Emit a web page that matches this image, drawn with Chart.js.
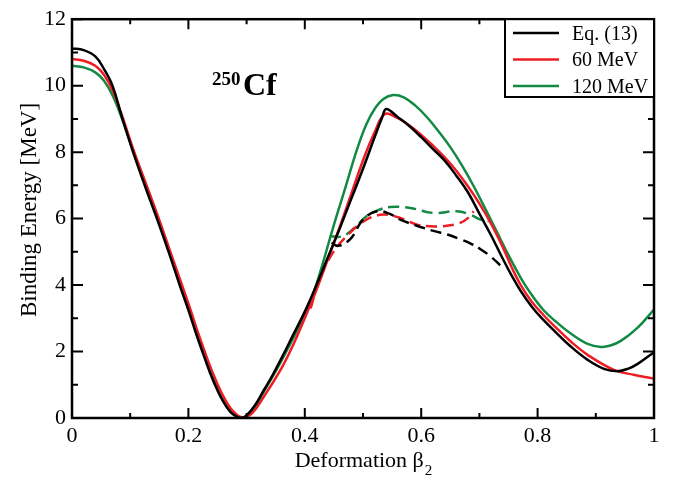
<!DOCTYPE html>
<html>
<head>
<meta charset="utf-8">
<script src="https://cdn.jsdelivr.net/npm/chart.js@4.4.1/dist/chart.umd.min.js"></script>
<style>
  html, body { margin: 0; padding: 0; background: #fff; }
  #wrap { width: 681px; height: 480px; }
</style>
</head>
<body>
<div id="wrap"><canvas id="myChart" width="681" height="480"></canvas></div>
<script>
// Datos (beta2, energia en MeV)
var eqBeta = [0, 0.02, 0.04, 0.055, 0.07, 0.085, 0.105, 0.126, 0.147, 0.166, 0.185, 0.2, 0.213, 0.228, 0.242, 0.258, 0.272, 0.283, 0.291, 0.3, 0.315, 0.33, 0.345, 0.36, 0.38, 0.4, 0.42, 0.44, 0.46, 0.48, 0.5, 0.52, 0.533, 0.54, 0.56, 0.58, 0.6, 0.62, 0.64, 0.66, 0.68, 0.7, 0.72, 0.74, 0.755, 0.771, 0.79, 0.81, 0.83, 0.857, 0.886, 0.914, 0.937, 0.955, 0.972, 1.0];
var eqEnergy = [11.12, 11.07, 10.88, 10.5, 9.98, 9.1, 8.0, 6.95, 5.95, 5.0, 4.0, 3.25, 2.55, 1.8, 1.15, 0.55, 0.18, 0.04, 0.0, 0.08, 0.4, 0.85, 1.3, 1.8, 2.5, 3.2, 4.0, 4.85, 5.7, 6.6, 7.5, 8.45, 9.05, 9.3, 9.05, 8.78, 8.45, 8.1, 7.75, 7.3, 6.8, 6.15, 5.5, 4.8, 4.3, 3.82, 3.35, 2.95, 2.6, 2.15, 1.75, 1.48, 1.41, 1.48, 1.63, 1.98];

var mev60Beta = [0, 0.02, 0.04, 0.055, 0.07, 0.085, 0.105, 0.126, 0.147, 0.166, 0.185, 0.2, 0.213, 0.228, 0.242, 0.258, 0.272, 0.283, 0.291, 0.296, 0.31, 0.33, 0.36, 0.38, 0.405, 0.42, 0.44, 0.46, 0.48, 0.5, 0.52, 0.538, 0.56, 0.58, 0.6, 0.62, 0.64, 0.66, 0.68, 0.7, 0.72, 0.74, 0.755, 0.771, 0.79, 0.81, 0.828, 0.857, 0.886, 0.931, 0.965, 1.0];
var mev60Energy = [10.8, 10.75, 10.6, 10.33, 9.85, 9.15, 8.1, 7.1, 6.1, 5.15, 4.2, 3.45, 2.75, 2.0, 1.35, 0.72, 0.3, 0.1, 0.02, 0.0, 0.15, 0.65, 1.5, 2.2, 3.21, 3.85, 4.8, 5.75, 6.75, 7.75, 8.6, 9.15, 9.02, 8.8, 8.52, 8.2, 7.85, 7.45, 6.98, 6.45, 5.85, 5.15, 4.55, 4.0, 3.5, 3.1, 2.78, 2.3, 1.9, 1.45, 1.3, 1.19];

var mev120Beta = [0, 0.02, 0.04, 0.055, 0.07, 0.085, 0.105, 0.126, 0.147, 0.166, 0.185, 0.2, 0.213, 0.228, 0.242, 0.258, 0.272, 0.283, 0.291, 0.297, 0.31, 0.33, 0.357, 0.38, 0.403, 0.414, 0.43, 0.449, 0.47, 0.49, 0.506, 0.52, 0.535, 0.552, 0.57, 0.59, 0.61, 0.63, 0.65, 0.67, 0.69, 0.71, 0.73, 0.75, 0.771, 0.79, 0.81, 0.83, 0.857, 0.886, 0.909, 0.925, 0.943, 0.972, 1.0];
var mev120Energy = [10.6, 10.55, 10.4, 10.15, 9.7, 9.05, 8.05, 7.05, 6.05, 5.1, 4.1, 3.35, 2.65, 1.9, 1.25, 0.65, 0.25, 0.08, 0.01, 0.0, 0.2, 0.8, 1.63, 2.4, 3.21, 3.7, 4.6, 5.75, 6.95, 8.1, 8.85, 9.3, 9.6, 9.72, 9.65, 9.4, 9.05, 8.62, 8.15, 7.6, 6.98, 6.3, 5.6, 4.9, 4.22, 3.7, 3.25, 2.92, 2.54, 2.23, 2.14, 2.18, 2.32, 2.72, 3.26];

// Ramas discontinuas
var eqDashBeta = [0.446, 0.457, 0.478, 0.5, 0.524, 0.545, 0.564, 0.59, 0.621, 0.645, 0.667, 0.685, 0.702, 0.72, 0.736];
var eqDashEnergy = [5.28, 5.18, 5.38, 5.97, 6.22, 6.15, 5.97, 5.8, 5.63, 5.52, 5.38, 5.25, 5.08, 4.85, 4.59];

var mev60DashBeta = [0.41, 0.426, 0.449, 0.478, 0.506, 0.535, 0.564, 0.593, 0.615, 0.638, 0.667, 0.684, 0.69];
var mev60DashEnergy = [3.3, 4.2, 4.99, 5.58, 5.97, 6.12, 6.02, 5.82, 5.77, 5.77, 5.87, 6.07, 6.22];

var mev120DashBeta = [0.443, 0.46, 0.472, 0.49, 0.506, 0.525, 0.547, 0.581, 0.621, 0.661, 0.684, 0.702, 0.716];
var mev120DashEnergy = [5.48, 5.45, 5.53, 5.8, 6.07, 6.25, 6.35, 6.32, 6.17, 6.22, 6.12, 5.97, 5.92];

var xTicks = [0, 0.2, 0.4, 0.6, 0.8, 1];
var yTicks = [0, 2, 4, 6, 8, 10, 12];

var NEGRO = '#000000';
var ROJO = '#ee1d23';
var VERDE = '#138a43';
var FUENTE = "'Liberation Serif', 'Times New Roman', serif";

function puntos(xs, ys) {
    return xs.map(function (x, i) {
        return { x: x, y: ys[i] };
    });
}

function serie(label, xs, ys, color, dashed) {
    return {
        label: label,
        data: puntos(xs, ys),
        borderColor: color,
        borderWidth: 2.5,
        borderDash: dashed ? [11, 6] : [],
        pointRadius: 0,
        showLine: true,
        fill: false,
        tension: 0.4,
        enLeyenda: !dashed
    };
}

// Ejes con marcas hacia dentro, marco y textos
var marcoPlugin = {
    id: 'marco',
    afterDraw: function (chart) {
        var ctx = chart.ctx;
        var a = chart.chartArea;
        var sx = chart.scales.x;
        var sy = chart.scales.y;
        ctx.save();
        ctx.strokeStyle = '#000';
        ctx.lineWidth = 2;
        var i, p, len;
        for (i = 0; i <= 10; i++) {
            p = sx.getPixelForValue(i / 10);
            len = (i % 2 === 0) ? 10 : 5;
            ctx.beginPath();
            ctx.moveTo(p, a.bottom); ctx.lineTo(p, a.bottom - len);
            ctx.moveTo(p, a.top); ctx.lineTo(p, a.top + len);
            ctx.stroke();
        }
        for (i = 0; i <= 12; i++) {
            p = sy.getPixelForValue(i);
            len = (i % 2 === 0) ? 11 : 6;
            ctx.beginPath();
            ctx.moveTo(a.left, p); ctx.lineTo(a.left + len, p);
            ctx.moveTo(a.right, p); ctx.lineTo(a.right - len, p);
            ctx.stroke();
        }
        ctx.lineWidth = 2.5;
        ctx.strokeRect(a.left, a.top, a.right - a.left, a.bottom - a.top);

        // leyenda
        var ley = chart.data.datasets.filter(function (d) { return d.enLeyenda; });
        ctx.fillStyle = '#fff';
        ctx.fillRect(505, a.top, a.right - 505, 97 - a.top);
        ctx.lineWidth = 2;
        ctx.strokeRect(505, a.top, a.right - 505, 97 - a.top);
        ctx.font = '20px ' + FUENTE;
        ctx.textAlign = 'left';
        ctx.textBaseline = 'alphabetic';
        ley.forEach(function (d, k) {
            var y = 33 + k * 26.5;
            ctx.strokeStyle = d.borderColor;
            ctx.lineWidth = 2.5;
            ctx.beginPath();
            ctx.moveTo(513, y); ctx.lineTo(559, y);
            ctx.stroke();
            ctx.fillStyle = '#000';
            ctx.fillText(d.label, 572, y + 6.5);
        });

        // etiqueta del nucleo
        ctx.fillStyle = '#000';
        ctx.font = 'bold 19px ' + FUENTE;
        ctx.fillText('250', 212, 85);
        ctx.font = 'bold 32px ' + FUENTE;
        ctx.fillText('Cf', 243, 95);

        // titulo eje x
        ctx.font = '22px ' + FUENTE;
        var t1 = 'Deformation \u03b2';
        var w1 = ctx.measureText(t1).width;
        ctx.font = '15px ' + FUENTE;
        var w2 = ctx.measureText('2').width;
        var x0 = (a.left + a.right) / 2 - (w1 + w2) / 2;
        ctx.font = '22px ' + FUENTE;
        ctx.fillText(t1, x0, 467);
        ctx.font = '15px ' + FUENTE;
        ctx.fillText('2', x0 + w1 + 1, 475);

        // titulo eje y
        ctx.translate(36, 210);
        ctx.rotate(-Math.PI / 2);
        ctx.font = '23px ' + FUENTE;
        ctx.textAlign = 'center';
        ctx.fillText('Binding Energy [MeV]', 0, 0);
        ctx.restore();
    }
};

var ctx = document.getElementById('myChart').getContext('2d');

new Chart(ctx, {
    type: 'scatter',
    data: {
        datasets: [
            serie('Eq. (13)', eqBeta, eqEnergy, NEGRO, false),
            serie('60 MeV', mev60Beta, mev60Energy, ROJO, false),
            serie('120 MeV', mev120Beta, mev120Energy, VERDE, false),
            serie('Eq. (13) dash', eqDashBeta, eqDashEnergy, NEGRO, true),
            serie('60 MeV dash', mev60DashBeta, mev60DashEnergy, ROJO, true),
            serie('120 MeV dash', mev120DashBeta, mev120DashEnergy, VERDE, true)
        ]
    },
    options: {
        responsive: false,
        animation: false,
        layout: { padding: { top: 12, right: 27, left: 0, bottom: 0 } },
        plugins: {
            legend: { display: false },
            tooltip: { enabled: false }
        },
        scales: {
            x: {
                type: 'linear',
                min: 0,
                max: 1,
                afterFit: function (s) { s.height = 62; },
                afterBuildTicks: function (s) {
                    s.ticks = xTicks.map(function (v) { return { value: v }; });
                },
                ticks: {
                    color: '#000',
                    padding: 5,
                    maxRotation: 0,
                    font: { family: FUENTE, size: 22 },
                    callback: function (v) { return String(Math.round(v * 10) / 10); }
                },
                grid: { display: false, drawTicks: false },
                border: { display: false }
            },
            y: {
                type: 'linear',
                min: 0,
                max: 12,
                afterFit: function (s) { s.width = 72; },
                afterBuildTicks: function (s) {
                    s.ticks = yTicks.map(function (v) { return { value: v }; });
                },
                ticks: {
                    color: '#000',
                    padding: 6,
                    font: { family: FUENTE, size: 22 },
                    callback: function (v) { return String(v); }
                },
                grid: { display: false, drawTicks: false },
                border: { display: false }
            }
        }
    },
    plugins: [marcoPlugin]
});
</script>
</body>
</html>
